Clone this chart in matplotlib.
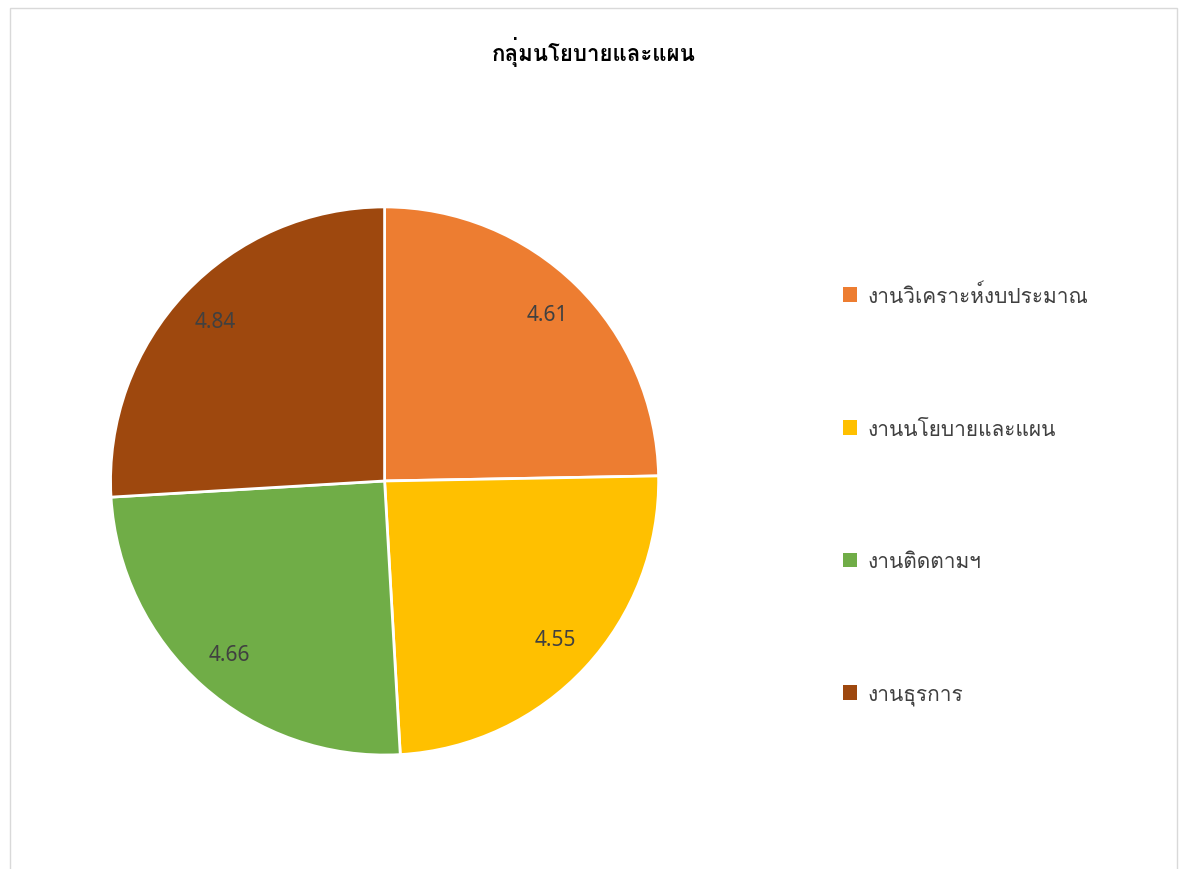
import matplotlib
matplotlib.use('Agg')
import matplotlib.pyplot as plt
from matplotlib import font_manager
from matplotlib.ft2font import FT2Font
import numpy as np
from matplotlib.patches import Rectangle, Patch

TITLE = 'กลุ่มนโยบายและแผน'
categories = ['งานวิเคราะห์งบประมาณ', 'งานนโยบายและแผน', 'งานติดตามฯ', 'งานธุรการ']
values = [4.61, 4.55, 4.66, 4.84]
colors = ['#ED7D31', '#FFC000', '#70AD47', '#9E480E']


def thai_families():
    # look for any installed font that covers Thai (ก = U+0E01)
    found = []
    for f in font_manager.fontManager.ttflist:
        try:
            if 0x0E01 in FT2Font(f.fname).get_charmap() and f.name not in found:
                found.append(f.name)
        except Exception:
            pass
    return found


thai = thai_families()
plt.rcParams['font.family'] = ['Noto Sans'] + thai + ['DejaVu Sans']

fig = plt.figure(figsize=(11.87, 8.70), dpi=100)

# light grey chart border
fig.patches.append(Rectangle((10 / 1187, -0.05), 1167 / 1187, 1.04,
                             transform=fig.transFigure, fill=False,
                             edgecolor='#D9D9D9', linewidth=1))

ax = fig.add_axes([0.093, 0.131, 0.462, 0.63])
wedges, _ = ax.pie(values, colors=colors, startangle=90, counterclock=False,
                   wedgeprops=dict(edgecolor='white', linewidth=2))
ax.set_xlim(-1.0, 1.0)
ax.set_ylim(-1.0, 1.0)
ax.set_aspect('equal')

# data labels inside each slice
for w, v in zip(wedges, values):
    ang = np.deg2rad((w.theta1 + w.theta2) / 2)
    ax.text(0.85 * np.cos(ang), 0.85 * np.sin(ang), f'{v:.2f}',
            ha='center', va='center', fontsize=15, color='#404040')

fig.text(0.5, 0.94, TITLE, ha='center', va='center', fontsize=16,
         fontweight='bold', color='black')

handles = [Patch(facecolor=c, edgecolor='none') for c in colors]
fig.legend(handles, categories, loc='center left', bbox_to_anchor=(0.694, 0.430),
           frameon=False, fontsize=15, handlelength=0.7, handleheight=0.7,
           handletextpad=0.5, labelspacing=5.36, labelcolor='#404040')

fig.savefig('out.png', dpi=100)
